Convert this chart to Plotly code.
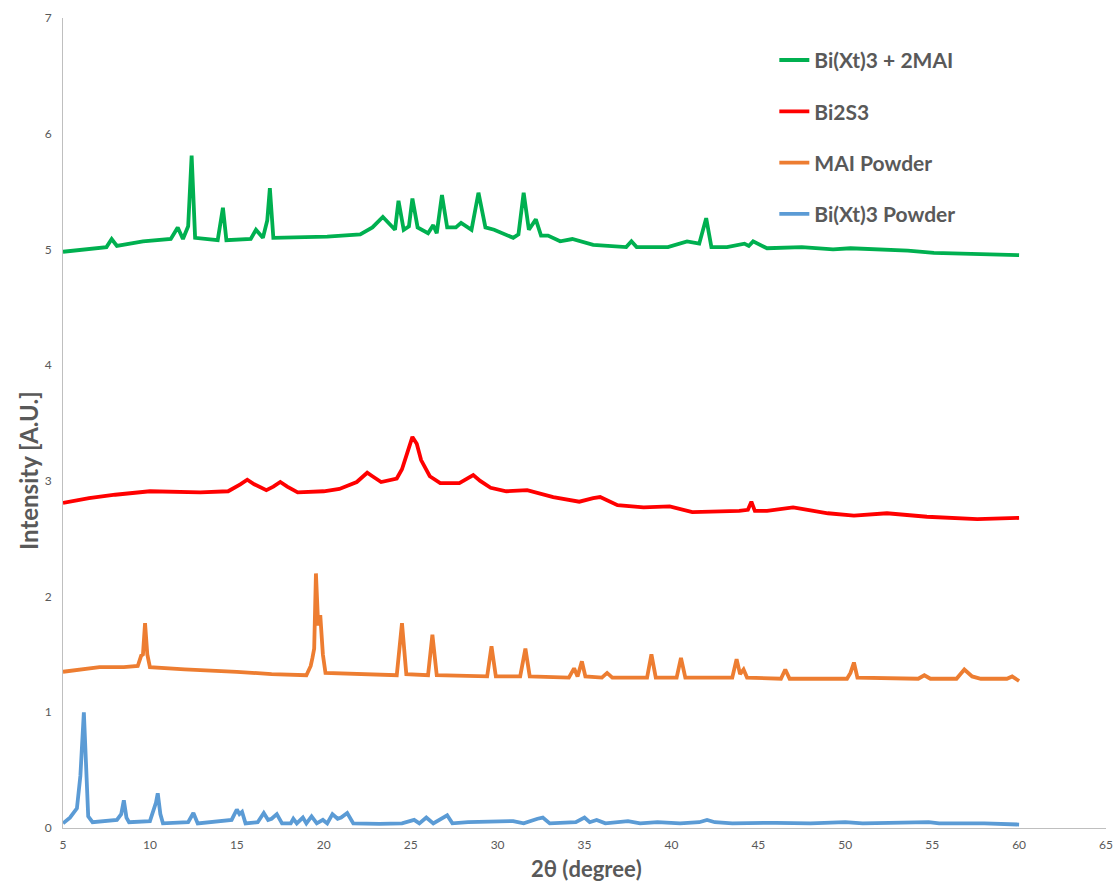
import plotly.graph_objects as go

# XRD patterns: (2-theta, intensity) pairs, curves offset vertically
BIXT3_2MAI = [
    (5.0, 4.98), (6.5, 5.00), (7.5, 5.02), (7.8, 5.09), (8.1, 5.03), (9.6, 5.07),
    (11.2, 5.09), (11.6, 5.19), (11.9, 5.09), (12.2, 5.20), (12.4, 5.81), (12.6, 5.10),
    (13.9, 5.08), (14.2, 5.36), (14.4, 5.08), (15.8, 5.09), (16.1, 5.17), (16.5, 5.10),
    (16.75, 5.25), (16.9, 5.53), (17.1, 5.10), (20.2, 5.11), (22.1, 5.13), (22.8, 5.19),
    (23.4, 5.28), (24.1, 5.17), (24.3, 5.42), (24.6, 5.17), (24.9, 5.20), (25.1, 5.44),
    (25.4, 5.19), (26.0, 5.14), (26.3, 5.21), (26.5, 5.14), (26.8, 5.47), (27.1, 5.19),
    (27.6, 5.19), (27.9, 5.23), (28.5, 5.17), (28.9, 5.49), (29.3, 5.19), (29.8, 5.17),
    (30.9, 5.10), (31.2, 5.13), (31.5, 5.49), (31.8, 5.17), (32.2, 5.26), (32.5, 5.12),
    (32.9, 5.12), (33.6, 5.07), (34.3, 5.09), (35.5, 5.04), (37.4, 5.02), (37.7, 5.07),
    (38.0, 5.02), (39.8, 5.02), (40.9, 5.07), (41.6, 5.05), (42.0, 5.27), (42.3, 5.02),
    (43.2, 5.02), (44.2, 5.05), (44.45, 5.03), (44.7, 5.07), (45.5, 5.01), (47.5, 5.02),
    (49.3, 5.00), (50.3, 5.01), (53.6, 4.99), (55.1, 4.97), (58.9, 4.95), (60.0, 4.95),
]

BI2S3 = [
    (5.0, 2.81), (6.5, 2.85), (8.0, 2.88), (10.0, 2.91), (12.9, 2.90), (14.5, 2.91),
    (15.2, 2.97), (15.6, 3.01), (16.0, 2.97), (16.7, 2.92), (17.1, 2.95), (17.5, 2.99),
    (17.9, 2.95), (18.5, 2.90), (20.0, 2.91), (20.9, 2.93), (21.9, 2.99), (22.5, 3.07),
    (22.8, 3.04), (23.3, 2.99), (24.2, 3.02), (24.5, 3.10), (24.8, 3.24), (25.1, 3.38),
    (25.35, 3.32), (25.6, 3.18), (26.1, 3.04), (26.7, 2.98), (27.8, 2.98), (28.3, 3.02),
    (28.6, 3.05), (29.0, 3.00), (29.6, 2.94), (30.5, 2.91), (31.3, 2.92), (31.7, 2.92),
    (33.2, 2.86), (34.7, 2.82), (35.5, 2.85), (35.9, 2.86), (36.9, 2.79), (38.4, 2.77),
    (39.9, 2.78), (41.2, 2.73), (43.9, 2.74), (44.4, 2.75), (44.6, 2.82), (44.8, 2.74),
    (45.5, 2.74), (47.0, 2.77), (49.0, 2.72), (50.5, 2.70), (52.4, 2.72), (54.7, 2.69),
    (57.6, 2.67), (60.0, 2.68),
]

MAI_POWDER = [
    (5.0, 1.35), (6.0, 1.37), (7.1, 1.39), (8.5, 1.39), (9.3, 1.40), (9.5, 1.49),
    (9.6, 1.50), (9.72, 1.77), (9.85, 1.50), (10.0, 1.39), (12.0, 1.37), (15.0, 1.35),
    (17.0, 1.33), (19.0, 1.32), (19.25, 1.40), (19.35, 1.47), (19.45, 1.55), (19.55, 2.20),
    (19.68, 1.75), (19.8, 1.84), (19.95, 1.50), (20.1, 1.34), (22.0, 1.33), (24.2, 1.32),
    (24.5, 1.77), (24.75, 1.33), (26.0, 1.32), (26.25, 1.67), (26.5, 1.32), (29.4, 1.31),
    (29.65, 1.57), (29.9, 1.31), (31.3, 1.31), (31.6, 1.55), (31.85, 1.31), (34.1, 1.30),
    (34.4, 1.38), (34.6, 1.31), (34.85, 1.44), (35.05, 1.31), (36.0, 1.30), (36.3, 1.34),
    (36.6, 1.30), (38.6, 1.30), (38.85, 1.50), (39.1, 1.30), (40.3, 1.30), (40.55, 1.47),
    (40.8, 1.30), (43.5, 1.30), (43.75, 1.46), (43.95, 1.33), (44.15, 1.37), (44.35, 1.30),
    (46.3, 1.29), (46.55, 1.37), (46.8, 1.29), (50.1, 1.29), (50.3, 1.34), (50.5, 1.43),
    (50.7, 1.30), (54.2, 1.29), (54.55, 1.32), (54.9, 1.29), (56.4, 1.29), (56.85, 1.37),
    (57.3, 1.31), (57.8, 1.29), (59.3, 1.29), (59.6, 1.31), (60.0, 1.27),
]

BIXT3_POWDER = [
    (5.0, 0.04), (5.4, 0.09), (5.8, 0.17), (6.0, 0.45), (6.2, 1.00), (6.35, 0.40),
    (6.45, 0.10), (6.7, 0.05), (8.1, 0.07), (8.35, 0.12), (8.5, 0.24), (8.65, 0.09),
    (8.8, 0.05), (10.0, 0.06), (10.2, 0.14), (10.35, 0.22), (10.45, 0.30), (10.6, 0.12),
    (10.75, 0.04), (12.2, 0.05), (12.5, 0.13), (12.75, 0.04), (14.7, 0.07), (15.0, 0.16),
    (15.15, 0.12), (15.3, 0.14), (15.5, 0.04), (16.2, 0.05), (16.55, 0.13), (16.8, 0.07),
    (17.0, 0.08), (17.3, 0.12), (17.6, 0.04), (18.1, 0.04), (18.25, 0.08), (18.45, 0.04),
    (18.8, 0.09), (19.0, 0.04), (19.3, 0.10), (19.6, 0.04), (19.95, 0.07), (20.2, 0.04),
    (20.5, 0.12), (20.8, 0.08), (21.0, 0.09), (21.35, 0.13), (21.7, 0.04), (23.2, 0.035),
    (24.5, 0.04), (25.2, 0.07), (25.5, 0.04), (25.9, 0.09), (26.3, 0.04), (27.1, 0.11),
    (27.4, 0.04), (28.3, 0.05), (30.9, 0.06), (31.5, 0.04), (32.3, 0.08), (32.6, 0.09),
    (33.0, 0.04), (34.5, 0.05), (35.0, 0.09), (35.3, 0.05), (35.7, 0.07), (36.2, 0.04),
    (37.5, 0.06), (38.2, 0.04), (39.2, 0.05), (40.5, 0.04), (41.6, 0.05), (42.05, 0.07),
    (42.5, 0.05), (43.5, 0.04), (46.0, 0.045), (48.0, 0.04), (50.0, 0.05), (51.0, 0.04),
    (54.8, 0.05), (55.4, 0.04), (58.0, 0.04), (60.0, 0.03),
]

SERIES = [
    ("Bi(Xt)3 + 2MAI", BIXT3_2MAI, "#00B050"),
    ("Bi2S3", BI2S3, "#FF0000"),
    ("MAI Powder", MAI_POWDER, "#ED7D31"),
    ("Bi(Xt)3 Powder", BIXT3_POWDER, "#5B9BD5"),
]

X_TICKS = [5, 10, 15, 20, 25, 30, 35, 40, 45, 50, 55, 60, 65]
Y_TICKS = [0, 1, 2, 3, 4, 5, 6, 7]
X_TITLE = "2θ (degree)"
Y_TITLE = "Intensity [A.U.]"

TEXT = "#595959"
AXIS = "#BFBFBF"

fig = go.Figure()
for name, pts, color in SERIES:
    fig.add_trace(go.Scatter(
        x=[p[0] for p in pts], y=[p[1] for p in pts],
        mode="lines", name=name, legendgroup=name,
        line=dict(color=color, width=3.8),
    ))

fig.update_layout(
    width=1117, height=884,
    margin=dict(l=63, r=11, t=18, b=56),
    paper_bgcolor="white", plot_bgcolor="white",
    font=dict(family="Lato", color=TEXT),
    showlegend=True,
    legend=dict(
        x=0.682, y=0.973, xanchor="left", yanchor="top",
        bgcolor="rgba(0,0,0,0)", tracegroupgap=21,
        font=dict(family="Lato", size=21, color=TEXT, weight="bold"),
        itemwidth=30,
    ),
    annotations=[
        dict(text=X_TITLE, xref="paper", yref="paper", x=0.502, y=-0.0495,
             xanchor="center", yanchor="middle", showarrow=False,
             font=dict(family="Lato", size=22, color=TEXT, weight="bold")),
        dict(text=Y_TITLE, xref="paper", yref="paper", x=-0.0325, y=0.441,
             xanchor="center", yanchor="middle", showarrow=False, textangle=-90,
             font=dict(family="Lato", size=24, color=TEXT, weight="bold")),
    ],
)
fig.update_xaxes(
    range=[5, 65], tickvals=X_TICKS, ticktext=[str(v) for v in X_TICKS],
    showgrid=False, zeroline=False, showline=True, linecolor=AXIS, linewidth=1,
    ticks="", tickfont=dict(size=12, color=TEXT), ticklabelstandoff=6,
    automargin=False,
)
fig.update_yaxes(
    range=[0, 7], tickvals=Y_TICKS, ticktext=[str(v) for v in Y_TICKS],
    showgrid=False, zeroline=False, showline=True, linecolor=AXIS, linewidth=1,
    ticks="", tickfont=dict(size=12, color=TEXT), ticklabelstandoff=8,
    automargin=False,
)

fig.write_html("out.html")
